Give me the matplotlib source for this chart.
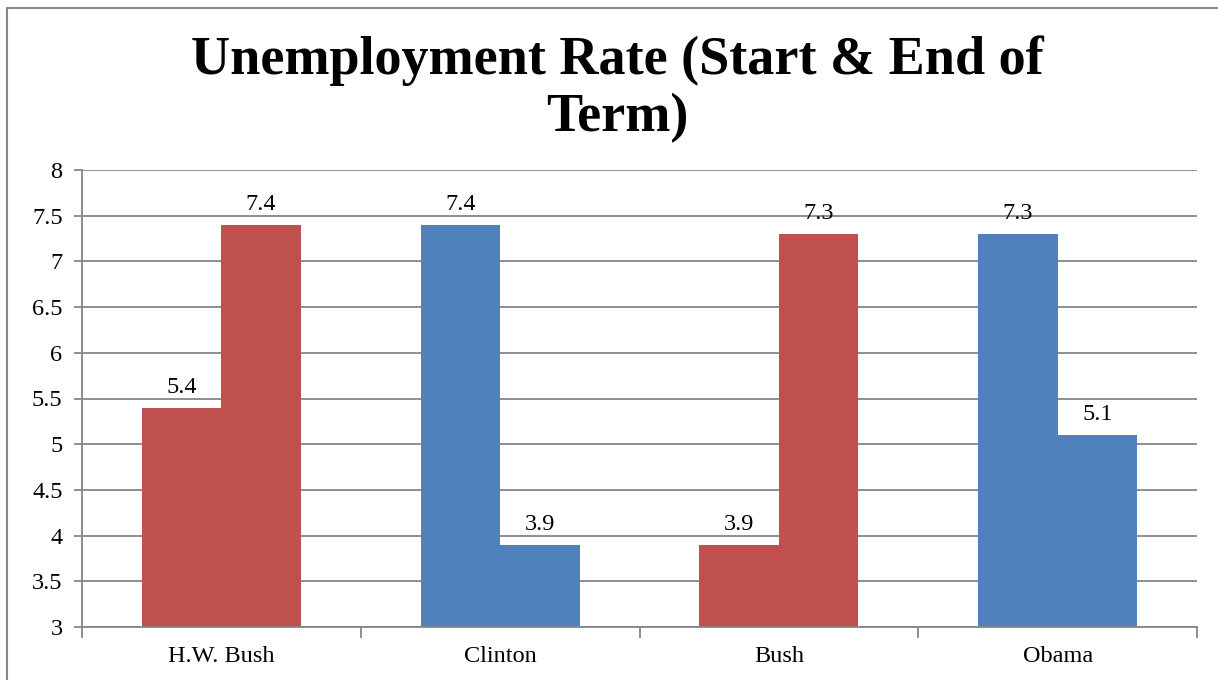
import matplotlib as mpl
import matplotlib.pyplot as plt
import numpy as np
from matplotlib.patches import Rectangle
from matplotlib.ticker import FixedLocator, NullFormatter

# --- data ---
presidents = ["H.W. Bush", "Clinton", "Bush", "Obama"]
start_rate = [5.4, 7.4, 3.9, 7.3]
end_rate = [7.4, 3.9, 7.3, 5.1]
party = ["R", "D", "R", "D"]
yticks = [3, 3.5, 4, 4.5, 5, 5.5, 6, 6.5, 7, 7.5, 8]

party_color = {"R": "#C0504D", "D": "#4F81BD"}
grid_color = "#868686"

mpl.rcParams["font.family"] = ["Liberation Serif", "DejaVu Serif"]

fig = plt.figure(figsize=(12.18, 6.8), dpi=100)
ax = fig.add_axes([82 / 1218, 1 - 627 / 680, (1197 - 82) / 1218, (627 - 170) / 680])

x = np.arange(len(presidents))
bar_w = 0.285
colors = [party_color[p] for p in party]
bars_start = ax.bar(x - bar_w / 2, start_rate, bar_w, bottom=0, color=colors, zorder=2)
bars_end = ax.bar(x + bar_w / 2, end_rate, bar_w, bottom=0, color=colors, zorder=2)

for bars, vals in ((bars_start, start_rate), (bars_end, end_rate)):
    for b, v in zip(bars, vals):
        ax.annotate(f"{v:g}", xy=(b.get_x() + b.get_width() / 2, v),
                    xytext=(0, 7), textcoords="offset points",
                    ha="center", va="bottom", fontsize=17.5, color="black")

ax.set_ylim(3, 8)
ax.set_xlim(-0.5, len(presidents) - 0.5)
ax.set_yticks(yticks)
ax.set_yticklabels([f"{t:g}" for t in yticks])
ax.yaxis.grid(True, color=grid_color, lw=1.3, zorder=0)
ax.set_axisbelow(True)

ax.set_xticks(x)
ax.set_xticklabels(presidents)
ax.xaxis.set_minor_locator(FixedLocator(np.arange(len(presidents) + 1) - 0.5))
ax.xaxis.set_minor_formatter(NullFormatter())
ax.tick_params(axis="x", which="major", length=0, pad=14, labelsize=17.5)
ax.tick_params(axis="x", which="minor", length=8, width=1.3, color=grid_color, direction="out")
ax.tick_params(axis="y", which="major", length=6, width=1.3, color=grid_color,
               direction="out", pad=8, labelsize=17.5)

for side in ("top", "right"):
    ax.spines[side].set_visible(False)
for side in ("left", "bottom"):
    ax.spines[side].set_color(grid_color)
    ax.spines[side].set_linewidth(1.3)

fig.text(617 / 1218, 1 - 89 / 680, "Unemployment Rate (Start & End of\nTerm)",
         ha="center", va="center", fontsize=39, fontweight="bold",
         linespacing=1.18)

# chart area frame
fig.add_artist(Rectangle((7 / 1218, -0.05), 1.1, 1 - 8 / 680 + 0.05,
                         transform=fig.transFigure, fill=False,
                         edgecolor=grid_color, lw=1.5))

fig.savefig("out.png", dpi=100, facecolor="white")
